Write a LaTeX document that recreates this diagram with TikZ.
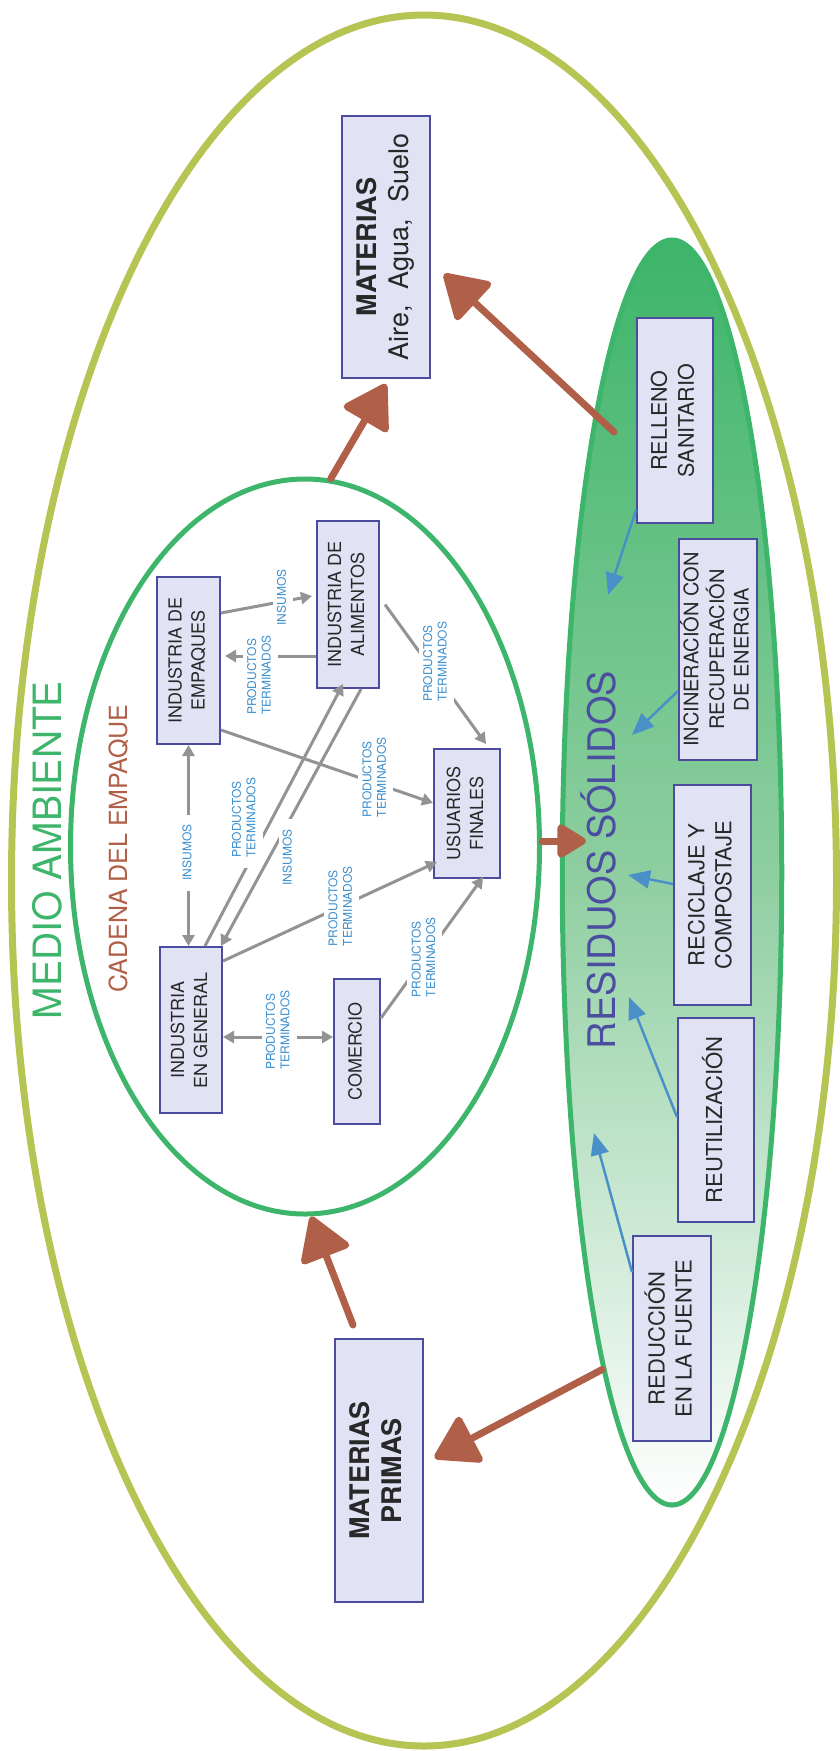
\documentclass[tikz,border=0pt]{standalone}
\usepackage{fontspec}
\setmainfont{TeX Gyre Heros}
\usetikzlibrary{shapes.geometric,arrows.meta}
\definecolor{ambline}{RGB}{181,196,83}
\definecolor{leaf}{RGB}{61,181,106}
\definecolor{brick}{RGB}{176,96,72}
\definecolor{indigo}{RGB}{74,77,160}
\definecolor{boxline}{RGB}{75,76,158}
\definecolor{boxfill}{RGB}{225,226,244}
\definecolor{boxtext}{RGB}{40,40,40}
\definecolor{flow}{RGB}{147,147,147}
\definecolor{flowtext}{RGB}{58,143,208}
\definecolor{waste}{RGB}{74,144,200}
\definecolor{wastemid}{RGB}{142,206,160}
\newcommand{\vtxt}[2][c]{\rotatebox{90}{\begin{tabular}{@{}#1@{}}#2\end{tabular}}}
\newcommand{\prodterm}{\vtxt[l]{PRODUCTOS\\TERMINADOS}}

\begin{document}
\begin{tikzpicture}[x=1pt,y=-1pt,
  box/.style={draw=boxline,fill=boxfill,line width=2pt,inner sep=0pt,text=boxtext,font=\fontsize{18}{23}\selectfont},
  wbox/.style={box,font=\fontsize{22}{27}\selectfont},
  bigbox/.style={box,font=\fontsize{27}{32}\selectfont\bfseries},
  lbl/.style={fill=white,text=flowtext,inner xsep=3pt,inner ysep=10pt,font=\fontsize{12}{14.5}\selectfont},
  flowarr/.style={color=flow,line width=3pt,>={Triangle[length=11pt,width=12pt]},->},
  flowboth/.style={flowarr,<->},
  wastearr/.style={color=waste,line width=2.5pt,-{Triangle[length=22pt,width=18pt]}},
  matarr/.style={color=brick,line width=7pt,line cap=round,-{Triangle[length=46pt,width=55pt,round]}}]
  \useasboundingbox (0,0) rectangle (840,1751);

  \node[ellipse,draw=ambline,line width=7pt,minimum width=825pt,minimum height=1731pt] (amb) at (424,880.5) {};
  \node[ellipse,draw=leaf,line width=5pt,minimum width=469pt,minimum height=735pt] (cad) at (305,846.5) {};
  \node[ellipse,draw=leaf,line width=5pt,top color=leaf,bottom color=white,middle color=wastemid,
        minimum width=219.5pt,minimum height=1265pt] (res) at (672,872.5) {};

  \node[anchor=base,rotate=90,text=leaf,font=\fontsize{39}{39}\selectfont] (ambt) at (61,850) {MEDIO AMBIENTE};
  \node[anchor=base,rotate=90,text=brick,font=\fontsize{25}{25}\selectfont] (cadt) at (127,848.5) {CADENA DEL EMPAQUE};
  \node[anchor=base,rotate=90,text=indigo,font=\fontsize{38}{38}\selectfont] (rest) at (615,860) {RESIDUOS SÓLIDOS};

  \node[bigbox,minimum width=88pt,minimum height=262pt] (mat) at (386,247)
    {\vtxt{MATERIAS\\\mdseries Aire,\hspace{.6em}Agua,\hspace{.6em}Suelo}};
  \node[bigbox,minimum width=88pt,minimum height=263pt] (prim) at (379,1470.5) {\vtxt{MATERIAS\\PRIMAS}};

  \node[box,minimum width=63pt,minimum height=167pt] (emp) at (188.5,660.5) {\vtxt{INDUSTRIA DE\\EMPAQUES}};
  \node[box,minimum width=62pt,minimum height=167pt] (ali) at (348,604.5) {\vtxt{INDUSTRIA DE\\ALIMENTOS}};
  \node[box,minimum width=66pt,minimum height=129pt] (usu) at (467,813.5) {\vtxt{USUARIOS\\FINALES}};
  \node[box,minimum width=62pt,minimum height=166pt] (gen) at (191,1030) {\vtxt{INDUSTRIA\\EN GENERAL}};
  \node[box,minimum width=46pt,minimum height=145pt] (com) at (357,1051.5) {\vtxt{COMERCIO}};

  \node[wbox,font=\fontsize{21.5}{27}\selectfont,minimum width=76pt,minimum height=205pt] (rel) at (675,420.5) {\vtxt{RELLENO\\SANITARIO}};
  \node[wbox,font=\fontsize{20}{24.5}\selectfont,minimum width=78pt,minimum height=221pt] (inc) at (718,649.5) {\vtxt{INCINERACIÓN CON\\RECUPERACIÓN\\DE ENERGIA}};
  \node[wbox,minimum width=77pt,minimum height=220pt] (rec) at (712.5,895) {\vtxt{RECICLAJE Y\\COMPOSTAJE}};
  \node[wbox,minimum width=76pt,minimum height=204pt] (reu) at (716,1120) {\vtxt{REUTILIZACIÓN}};
  \node[wbox,minimum width=78pt,minimum height=205pt] (red) at (672,1338.5) {\vtxt{REDUCCIÓN\\EN LA FUENTE}};

  \path[flowarr]
  ([yshift=47.5pt]emp.east) edge node[lbl,pos=.68,yshift=4pt] {\vtxt{INSUMOS}} ([xshift=-4pt,yshift=8.5pt]ali.west)
  ([yshift=-51.5pt]ali.west) edge node[lbl,pos=.61,yshift=-19pt] {\prodterm} ([xshift=4pt,yshift=4.5pt]emp.east)
  ([xshift=5pt]ali.east) edge node[lbl,pos=.41,xshift=10pt] {\prodterm} ([xshift=19pt,yshift=4pt]usu.north)
  ([yshift=-69.5pt]emp.east) edge node[lbl,pos=.73,yshift=6pt] {\prodterm} ([yshift=10.5pt]usu.west)
  ([xshift=14pt]gen.north) edge node[lbl,pos=.49,xshift=-27.5pt] {\prodterm} ([xshift=-5pt,yshift=5pt]ali.south)
  ([xshift=13pt]ali.south) edge node[lbl,pos=.655,xshift=19.5pt] {\vtxt{INSUMOS}} ([xshift=-2pt]gen.north east)
  ([yshift=-15pt]gen.north east) edge node[lbl,pos=.555] {\prodterm} ([xshift=4pt,yshift=17pt]usu.south west)
  ([yshift=33.5pt]com.east) edge node[lbl,pos=.43] {\prodterm} ([xshift=16pt,yshift=2pt]usu.south)
  ;
  \path[flowboth]
  (emp.south) edge node[lbl,pos=.535] {\vtxt{INSUMOS}} (emp.south |- gen.north)
  ([yshift=-7pt]gen.east) edge node[lbl,pos=.51,yshift=7pt] {\prodterm} ([yshift=14.5pt]com.west)
  ;

  \coordinate (w1) at (608,595);
  \coordinate (w2) at (632,735);
  \coordinate (w3) at (628,875);
  \coordinate (w4) at (629,997);
  \coordinate (w5) at (594,1133);
  \path[wastearr]
  ([yshift=14pt]rel.south west) edge (w1)
  ([yshift=-41.5pt]inc.west) edge (w2)
  ([yshift=11pt]rec.west) edge (w3)
  ([yshift=3pt]reu.west) edge (w4)
  ([yshift=-37pt]red.north west) edge (w5)
  ;

  \coordinate (rs) at (614,432);
  \path[matarr]
  (cad.86) edge ([yshift=-5pt]mat.south)
  (rs) edge ([xshift=13pt,yshift=-27pt]mat.east)
  ([xshift=-26pt,yshift=13pt]prim.north) edge ([xshift=6pt]cad.south)
  (res.262) edge ([xshift=10.5pt,yshift=12.5pt]prim.east)
  ;
  \path[matarr,-{Triangle[length=32pt,width=37pt,round]}]
  ([yshift=5.5pt]cad.east) edge ([xshift=44pt,yshift=5.5pt]cad.east);
\end{tikzpicture}
\end{document}
